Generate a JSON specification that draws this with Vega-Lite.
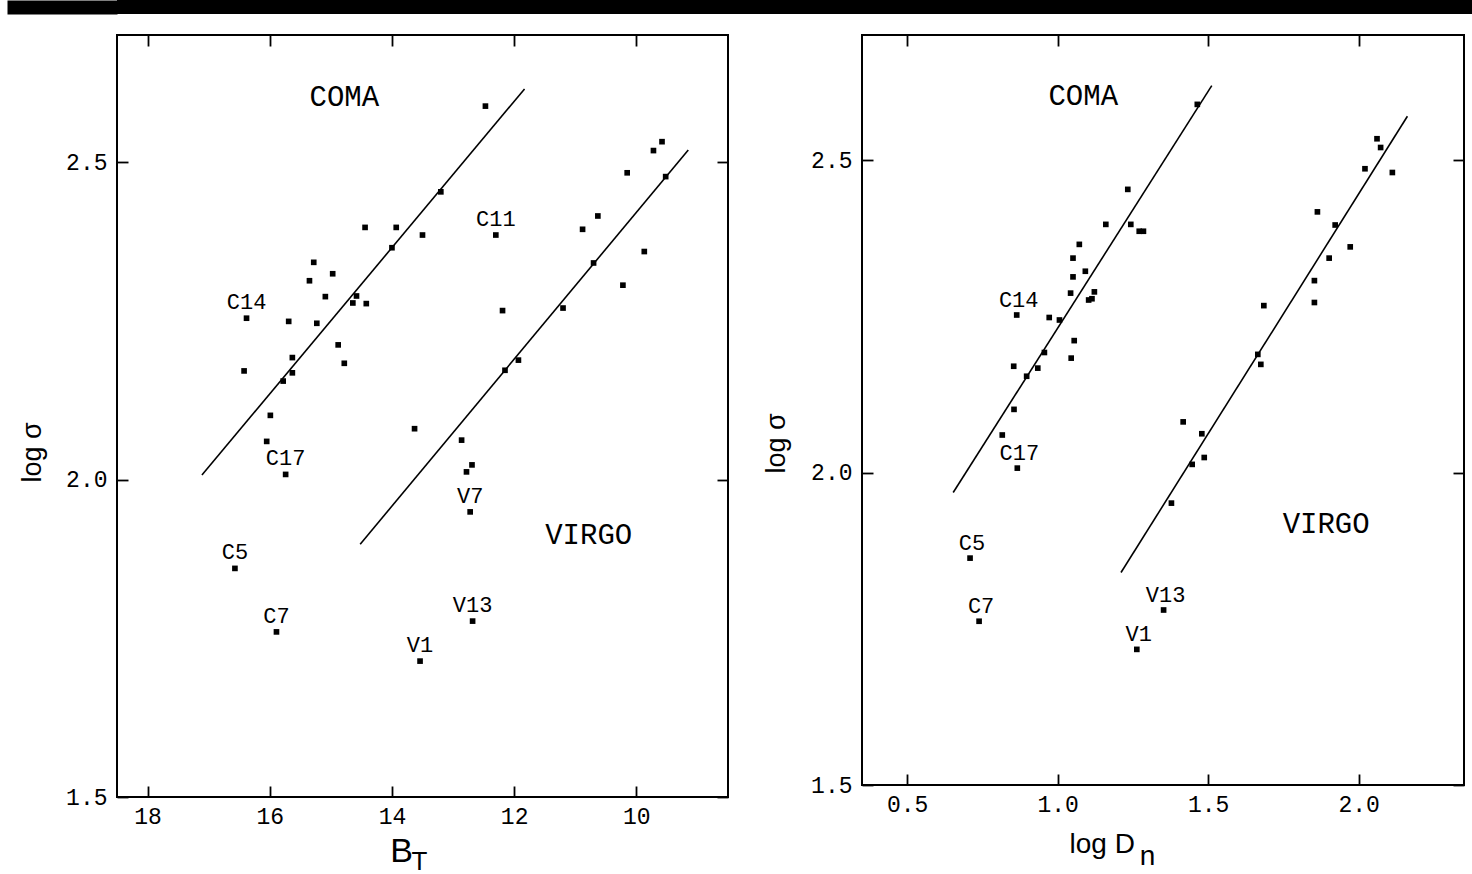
{
  "$schema": "https://vega.github.io/schema/vega-lite/v6.json",
  "background": "white",
  "padding": 0,
  "datasets": {
    "bt": [
      {"cluster": "Coma", "BT": 12.47, "logsig": 2.588},
      {"cluster": "Coma", "BT": 13.20, "logsig": 2.453},
      {"cluster": "Coma", "BT": 14.44, "logsig": 2.397},
      {"cluster": "Coma", "BT": 13.93, "logsig": 2.397},
      {"cluster": "Coma", "BT": 13.50, "logsig": 2.385},
      {"cluster": "Coma", "BT": 14.00, "logsig": 2.365},
      {"cluster": "Coma", "BT": 15.28, "logsig": 2.342},
      {"cluster": "Coma", "BT": 14.97, "logsig": 2.324},
      {"cluster": "Coma", "BT": 15.35, "logsig": 2.313},
      {"cluster": "Coma", "BT": 15.09, "logsig": 2.288},
      {"cluster": "Coma", "BT": 14.58, "logsig": 2.289},
      {"cluster": "Coma", "BT": 14.64, "logsig": 2.278},
      {"cluster": "Coma", "BT": 14.42, "logsig": 2.277},
      {"cluster": "Coma", "BT": 16.38, "logsig": 2.254, "label": "C14"},
      {"cluster": "Coma", "BT": 15.69, "logsig": 2.249},
      {"cluster": "Coma", "BT": 15.23, "logsig": 2.246},
      {"cluster": "Coma", "BT": 14.88, "logsig": 2.212},
      {"cluster": "Coma", "BT": 14.78, "logsig": 2.183},
      {"cluster": "Coma", "BT": 15.63, "logsig": 2.192},
      {"cluster": "Coma", "BT": 16.42, "logsig": 2.171},
      {"cluster": "Coma", "BT": 15.63, "logsig": 2.168},
      {"cluster": "Coma", "BT": 15.78, "logsig": 2.155},
      {"cluster": "Coma", "BT": 15.99, "logsig": 2.101},
      {"cluster": "Coma", "BT": 16.05, "logsig": 2.060},
      {"cluster": "Coma", "BT": 15.74, "logsig": 2.008, "label": "C17"},
      {"cluster": "Coma", "BT": 16.57, "logsig": 1.860, "label": "C5"},
      {"cluster": "Coma", "BT": 15.89, "logsig": 1.760, "label": "C7"},
      {"cluster": "Coma", "BT": 12.30, "logsig": 2.385, "label": "C11"},
      {"cluster": "Virgo", "BT": 12.19, "logsig": 2.266},
      {"cluster": "Virgo", "BT": 13.63, "logsig": 2.080},
      {"cluster": "Virgo", "BT": 12.86, "logsig": 2.062},
      {"cluster": "Virgo", "BT": 12.69, "logsig": 2.023},
      {"cluster": "Virgo", "BT": 12.78, "logsig": 2.012},
      {"cluster": "Virgo", "BT": 12.72, "logsig": 1.949, "label": "V7"},
      {"cluster": "Virgo", "BT": 12.15, "logsig": 2.172},
      {"cluster": "Virgo", "BT": 11.93, "logsig": 2.188},
      {"cluster": "Virgo", "BT": 11.20, "logsig": 2.270},
      {"cluster": "Virgo", "BT": 10.88, "logsig": 2.394},
      {"cluster": "Virgo", "BT": 10.63, "logsig": 2.415},
      {"cluster": "Virgo", "BT": 10.70, "logsig": 2.341},
      {"cluster": "Virgo", "BT": 10.15, "logsig": 2.483},
      {"cluster": "Virgo", "BT": 10.22, "logsig": 2.306},
      {"cluster": "Virgo", "BT": 9.87, "logsig": 2.359},
      {"cluster": "Virgo", "BT": 9.72, "logsig": 2.518},
      {"cluster": "Virgo", "BT": 9.58, "logsig": 2.532},
      {"cluster": "Virgo", "BT": 9.52, "logsig": 2.477},
      {"cluster": "Virgo", "BT": 13.54, "logsig": 1.714, "label": "V1"},
      {"cluster": "Virgo", "BT": 12.68, "logsig": 1.777, "label": "V13"}
    ],
    "dn": [
      {"cluster": "Coma", "logDn": 1.464, "logsig": 2.589},
      {"cluster": "Coma", "logDn": 1.233, "logsig": 2.453},
      {"cluster": "Coma", "logDn": 1.160, "logsig": 2.397},
      {"cluster": "Coma", "logDn": 1.243, "logsig": 2.397},
      {"cluster": "Coma", "logDn": 1.271, "logsig": 2.386},
      {"cluster": "Coma", "logDn": 1.285, "logsig": 2.386},
      {"cluster": "Coma", "logDn": 1.072, "logsig": 2.365},
      {"cluster": "Coma", "logDn": 1.051, "logsig": 2.343},
      {"cluster": "Coma", "logDn": 1.092, "logsig": 2.322},
      {"cluster": "Coma", "logDn": 1.051, "logsig": 2.313},
      {"cluster": "Coma", "logDn": 1.043, "logsig": 2.287},
      {"cluster": "Coma", "logDn": 1.122, "logsig": 2.289},
      {"cluster": "Coma", "logDn": 1.103, "logsig": 2.276},
      {"cluster": "Coma", "logDn": 1.114, "logsig": 2.278},
      {"cluster": "Coma", "logDn": 0.864, "logsig": 2.252, "label": "C14"},
      {"cluster": "Coma", "logDn": 0.972, "logsig": 2.248},
      {"cluster": "Coma", "logDn": 1.006, "logsig": 2.244},
      {"cluster": "Coma", "logDn": 1.055, "logsig": 2.211},
      {"cluster": "Coma", "logDn": 1.045, "logsig": 2.183},
      {"cluster": "Coma", "logDn": 0.956, "logsig": 2.192},
      {"cluster": "Coma", "logDn": 0.854, "logsig": 2.170},
      {"cluster": "Coma", "logDn": 0.934, "logsig": 2.167},
      {"cluster": "Coma", "logDn": 0.897, "logsig": 2.154},
      {"cluster": "Coma", "logDn": 0.855, "logsig": 2.101},
      {"cluster": "Coma", "logDn": 0.816, "logsig": 2.060},
      {"cluster": "Coma", "logDn": 0.866, "logsig": 2.007, "label": "C17"},
      {"cluster": "Coma", "logDn": 0.709, "logsig": 1.863, "label": "C5"},
      {"cluster": "Coma", "logDn": 0.739, "logsig": 1.762, "label": "C7"},
      {"cluster": "Virgo", "logDn": 2.061, "logsig": 2.534},
      {"cluster": "Virgo", "logDn": 2.073, "logsig": 2.520},
      {"cluster": "Virgo", "logDn": 2.021, "logsig": 2.486},
      {"cluster": "Virgo", "logDn": 2.112, "logsig": 2.480},
      {"cluster": "Virgo", "logDn": 1.863, "logsig": 2.417},
      {"cluster": "Virgo", "logDn": 1.922, "logsig": 2.396},
      {"cluster": "Virgo", "logDn": 1.972, "logsig": 2.361},
      {"cluster": "Virgo", "logDn": 1.902, "logsig": 2.343},
      {"cluster": "Virgo", "logDn": 1.853, "logsig": 2.307},
      {"cluster": "Virgo", "logDn": 1.853, "logsig": 2.272},
      {"cluster": "Virgo", "logDn": 1.685, "logsig": 2.267},
      {"cluster": "Virgo", "logDn": 1.665, "logsig": 2.189},
      {"cluster": "Virgo", "logDn": 1.675, "logsig": 2.173},
      {"cluster": "Virgo", "logDn": 1.417, "logsig": 2.081},
      {"cluster": "Virgo", "logDn": 1.479, "logsig": 2.062},
      {"cluster": "Virgo", "logDn": 1.487, "logsig": 2.024},
      {"cluster": "Virgo", "logDn": 1.447, "logsig": 2.013},
      {"cluster": "Virgo", "logDn": 1.378, "logsig": 1.951},
      {"cluster": "Virgo", "logDn": 1.352, "logsig": 1.780, "label": "V13"},
      {"cluster": "Virgo", "logDn": 1.263, "logsig": 1.717, "label": "V1"}
    ],
    "btfit": [
      {"cluster": "Coma", "BT": 17.11, "logsig": 2.007},
      {"cluster": "Coma", "BT": 11.83, "logsig": 2.615},
      {"cluster": "Virgo", "BT": 14.52, "logsig": 1.898},
      {"cluster": "Virgo", "BT": 9.15, "logsig": 2.519}
    ],
    "dnfit": [
      {"cluster": "Coma", "logDn": 0.653, "logsig": 1.968},
      {"cluster": "Coma", "logDn": 1.512, "logsig": 2.619},
      {"cluster": "Virgo", "logDn": 1.2105, "logsig": 1.840},
      {"cluster": "Virgo", "logDn": 2.162, "logsig": 2.570}
    ],
    "btnames": [
      {"name": "COMA", "BT": 14.78, "logsig": 2.602},
      {"name": "VIRGO", "BT": 10.78, "logsig": 1.912}
    ],
    "dnnames": [
      {"name": "COMA", "logDn": 1.085, "logsig": 2.603},
      {"name": "VIRGO", "logDn": 1.892, "logsig": 1.917}
    ]
  },
  "concat": [
    {
      "width": 1356,
      "height": 14,
      "data": {"values": []},
      "mark": "point",
      "encoding": {
        "y": {
          "field": "v", "type": "quantitative",
          "scale": {"domain": [0, 1]},
          "axis": {
            "orient": "left", "values": [0.5], "labels": false, "domain": false, "title": null,
            "tickSize": 110, "tickWidth": 14, "tickColor": "black", "tickCap": "butt"
          }
        }
      },
      "view": {"fill": "black", "stroke": null}
    },
    {
      "hconcat": [
        {
          "width": 611,
          "height": 762,
          "layer": [
            {
              "data": {"name": "bt"},
              "mark": {"type": "square", "size": 32, "color": "black", "opacity": 1},
              "encoding": {
                "x": {
                  "field": "BT", "type": "quantitative",
                  "scale": {"domain": [18.5, 8.5], "nice": false, "zero": false},
                  "axis": {
                    "orient": "bottom", "values": [18, 16, 14, 12, 10], "format": "d",
                    "labelPadding": 19,
                    "title": "B", "titleX": 284,
                    "titleFontSize": 34, "titlePadding": 6
                  }
                },
                "y": {
                  "field": "logsig", "type": "quantitative",
                  "scale": {"domain": [1.5, 2.7], "nice": false, "zero": false},
                  "axis": {
                    "orient": "left", "values": [1.5, 2.0, 2.5], "format": ".1f",
                    "labelPadding": 21,
                    "title": "log σ", "titleY": 417, "titleFontSize": 27, "titlePadding": 19
                  }
                }
              }
            },
            {
              "data": {"name": "bt"},
              "transform": [{"filter": "isValid(datum.label)"}],
              "mark": {"type": "text", "dy": -16, "fontSize": 22},
              "encoding": {
                "x": {"field": "BT", "type": "quantitative", "axis": null},
                "y": {"field": "logsig", "type": "quantitative", "axis": null},
                "text": {"field": "label"}
              }
            },
            {
              "data": {"name": "btnames"},
              "mark": {"type": "text", "fontSize": 29},
              "encoding": {
                "x": {
                  "field": "BT", "type": "quantitative",
                  "axis": {
                    "orient": "bottom", "ticks": false, "labels": false,
                    "title": "T", "titleX": 302, "titleFontSize": 26, "titlePadding": 51
                  }
                },
                "y": {"field": "logsig", "type": "quantitative", "axis": null},
                "text": {"field": "name"}
              }
            },
            {
              "data": {"name": "btfit"},
              "mark": {"type": "line", "color": "black", "strokeWidth": 1.6},
              "encoding": {
                "x": {
                  "field": "BT", "type": "quantitative",
                  "axis": {"orient": "top", "values": [18, 16, 14, 12, 10], "labels": false, "title": null}
                },
                "y": {
                  "field": "logsig", "type": "quantitative",
                  "axis": {"orient": "right", "values": [1.5, 2.0, 2.5], "labels": false, "title": null}
                },
                "detail": {"field": "cluster"}
              }
            }
          ],
          "resolve": {"axis": {"x": "independent", "y": "independent"}}
        },
        {
          "width": 602,
          "height": 750,
          "layer": [
            {
              "data": {"name": "dn"},
              "mark": {"type": "square", "size": 32, "color": "black", "opacity": 1},
              "encoding": {
                "x": {
                  "field": "logDn", "type": "quantitative",
                  "scale": {"domain": [0.35, 2.35], "nice": false, "zero": false},
                  "axis": {
                    "orient": "bottom", "values": [0.5, 1.0, 1.5, 2.0], "format": ".1f",
                    "labelPadding": 19,
                    "title": "log D", "titleAlign": "left", "titleX": 207,
                    "titleFontSize": 28, "titlePadding": 14
                  }
                },
                "y": {
                  "field": "logsig", "type": "quantitative",
                  "scale": {"domain": [1.5, 2.7], "nice": false, "zero": false},
                  "axis": {
                    "orient": "left", "values": [1.5, 2.0, 2.5], "format": ".1f",
                    "labelPadding": 21,
                    "title": "log σ", "titleY": 408, "titleFontSize": 27, "titlePadding": 20
                  }
                }
              }
            },
            {
              "data": {"name": "dn"},
              "transform": [{"filter": "isValid(datum.label)"}],
              "mark": {"type": "text", "dy": -15, "dx": 2, "fontSize": 22},
              "encoding": {
                "x": {"field": "logDn", "type": "quantitative", "axis": null},
                "y": {"field": "logsig", "type": "quantitative", "axis": null},
                "text": {"field": "label"}
              }
            },
            {
              "data": {"name": "dnnames"},
              "mark": {"type": "text", "fontSize": 29},
              "encoding": {
                "x": {
                  "field": "logDn", "type": "quantitative",
                  "axis": {
                    "orient": "bottom", "ticks": false, "labels": false,
                    "title": "n", "titleX": 285, "titleFontSize": 28, "titlePadding": 57
                  }
                },
                "y": {"field": "logsig", "type": "quantitative", "axis": null},
                "text": {"field": "name"}
              }
            },
            {
              "data": {"name": "dnfit"},
              "mark": {"type": "line", "color": "black", "strokeWidth": 1.6},
              "encoding": {
                "x": {
                  "field": "logDn", "type": "quantitative",
                  "axis": {"orient": "top", "values": [0.5, 1.0, 1.5, 2.0], "labels": false, "title": null}
                },
                "y": {
                  "field": "logsig", "type": "quantitative",
                  "axis": {"orient": "right", "values": [1.5, 2.0, 2.5], "labels": false, "title": null}
                },
                "detail": {"field": "cluster"}
              }
            }
          ],
          "resolve": {"axis": {"x": "independent", "y": "independent"}}
        }
      ],
      "spacing": 134,
      "bounds": "flush"
    }
  ],
  "columns": 1,
  "spacing": 19,
  "config": {
    "view": {"stroke": "black", "strokeWidth": 2},
    "axis": {
      "domain": false, "grid": false,
      "ticks": true, "tickColor": "black", "tickWidth": 1.8, "tickSize": -11,
      "labelFont": "Liberation Mono", "labelFontSize": 23, "labelColor": "black",
      "labelFlush": false,
      "titleFont": "Liberation Sans", "titleFontWeight": "normal", "titleColor": "black"
    },
    "text": {"font": "Liberation Mono", "color": "black"}
  }
}
